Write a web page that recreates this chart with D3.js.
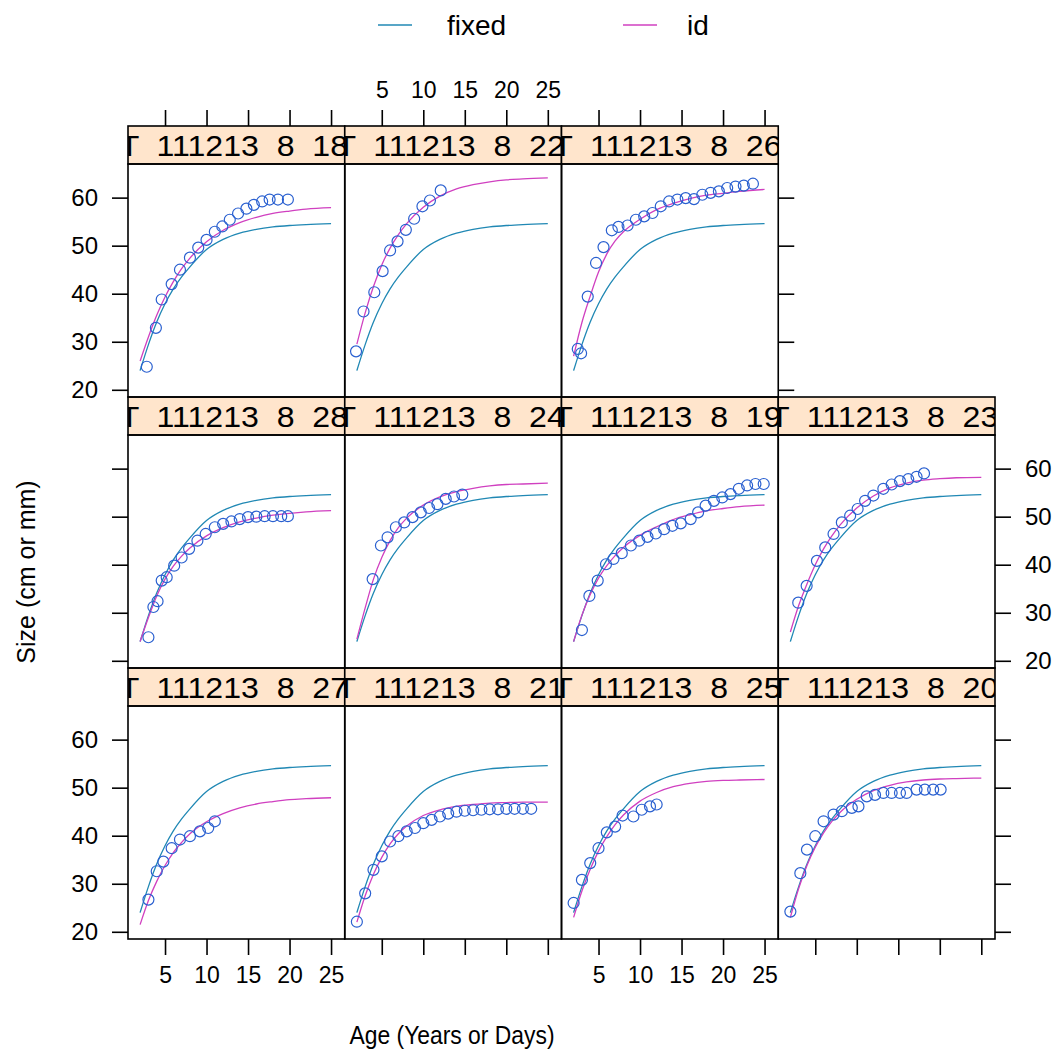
<!DOCTYPE html>
<html>
<head>
<meta charset="utf-8">
<script src="https://cdn.jsdelivr.net/npm/d3@7"></script>
<style>
  body { margin: 0; background: #fff; }
  text { font-family: "Liberation Sans", Arial, sans-serif; fill: #000; }
</style>
</head>
<body>
<svg id="chart" width="1056" height="1057"></svg>
<script>
// panels in lattice order (bottom-left first, row by row upwards)
const panelLabels = ["27", "21", "25", "20", "28", "24", "19", "23", "18", "22", "26"];

// ages at which the fitted curves are drawn
const curveAges = [2, 3, 4, 5, 6, 7, 8, 10, 12, 14, 16, 18, 20, 22, 25];

// population (fixed effects) curve, same in every panel
const fixedFit = [24, 29.4, 34.1, 37.9, 41.0, 43.5, 45.6, 49.2, 51.3, 52.6, 53.4, 53.9, 54.2, 54.4, 54.6];

// individual (id) curves, one per panel, same order as panelLabels
const idFits = [
    [21.5, 26.5, 30.5, 33.8, 36.5, 38.6, 40.4, 42.9, 44.6, 45.8, 46.6, 47.1, 47.5, 47.7, 47.9],
    [22, 27.5, 32, 35.5, 38.3, 40.4, 42, 44.2, 45.4, 46.1, 46.5, 46.8, 46.9, 47, 47],
    [23, 28.5, 33, 36.8, 39.8, 42.3, 44.3, 47.2, 49, 50.2, 50.9, 51.3, 51.5, 51.6, 51.7],
    [23, 29, 33.8, 37.6, 40.6, 43, 44.9, 47.6, 49.4, 50.5, 51.2, 51.6, 51.8, 51.9, 52],
    [24, 29, 33.5, 37, 39.7, 41.8, 43.5, 46, 47.7, 48.9, 49.7, 50.3, 50.7, 51, 51.25],
    [24.5, 31, 37, 41.5, 45, 47.7, 49.7, 52.4, 54.1, 55.2, 55.9, 56.4, 56.7, 56.8, 57],
    [24, 29.5, 33.8, 37.2, 39.8, 41.9, 43.6, 46.1, 47.9, 49.4, 50.4, 51.2, 51.7, 52.1, 52.4],
    [26, 31.5, 36, 40, 43.3, 46, 48.3, 51.8, 54.3, 56, 57, 57.6, 57.9, 58.1, 58.2],
    [26, 31, 35.5, 39.3, 42.5, 45.2, 47.4, 50.8, 53.2, 54.8, 55.9, 56.7, 57.2, 57.6, 57.9],
    [29.5, 36, 41.5, 46, 49.5, 52.3, 54.6, 58, 60.3, 61.8, 62.7, 63.3, 63.7, 63.9, 64.1],
    [27, 34, 39.5, 44.5, 48.3, 51, 52.9, 55.5, 57.5, 58.8, 59.8, 60.5, 60.9, 61.3, 61.7]
];

// observed ages and sizes, one list per panel
const obsAges = [
    [3.0, 4.0, 4.8, 5.8, 6.8, 8.0, 9.2, 10.2, 11.0],
    [2, 3, 4, 5, 6, 7, 8, 9, 10, 11, 12, 13, 14, 15, 16, 17, 18, 19, 20, 21, 22, 23],
    [2, 3, 4, 5, 6, 7, 7.9, 9.2, 10.2, 11.2, 12],
    [2, 3.2, 4, 5, 6, 7.2, 8.2, 9.4, 10.2, 11.2, 12.2, 13.2, 14.2, 15.2, 16, 17.2, 18.2, 19.2, 20.1],
    [3, 3.6, 4.1, 4.6, 5.2, 6.1, 7, 7.9, 8.9, 9.9, 11, 12, 13, 14, 15, 16, 17, 18, 19, 19.8],
    [3.9, 4.9, 5.7, 6.7, 7.7, 8.7, 9.7, 10.7, 11.7, 12.7, 13.7, 14.7],
    [3, 3.9, 4.9, 5.9, 6.8, 7.8, 8.9, 9.9, 10.9, 11.9, 12.9, 13.9, 14.9, 16.1, 17, 17.9, 18.9, 19.9, 20.9, 21.9, 22.9, 23.9, 24.9],
    [2.95, 3.96, 5.2, 6.2, 7.2, 8.2, 9.2, 10.1, 11, 12, 13.2, 14.2, 15.2, 16.2, 17.2, 18.1],
    [2.8, 3.9, 4.6, 5.8, 6.8, 8, 9, 10, 11, 11.9, 12.8, 13.8, 14.8, 15.7, 16.7, 17.6, 18.6, 19.8],
    [1.9, 2.8, 4.1, 5.1, 6, 6.9, 7.9, 8.9, 9.9, 10.8, 12.1],
    [2.5, 2.9, 3.7, 4.7, 5.6, 6.6, 7.4, 8.5, 9.5, 10.5, 11.5, 12.5, 13.5, 14.5, 15.5, 16.5, 17.5, 18.5, 19.5, 20.5, 21.5, 22.5, 23.6]
];
const obsSizes = [
    [26.7, 32.6, 34.6, 37.4, 39.2, 39.9, 40.9, 41.6, 43],
    [22.1, 28, 32.9, 35.7, 38.8, 39.9, 40.9, 41.6, 42.6, 43.3, 44, 44.6, 45, 45.2, 45.3, 45.4, 45.5, 45.5, 45.6, 45.6, 45.6, 45.6],
    [26, 30.8, 34.3, 37.4, 40.7, 41.9, 44.2, 44, 45.4, 46.1, 46.5],
    [24.2, 32.2, 37.1, 39.9, 43, 44.4, 45.1, 45.8, 46.1, 48.2, 48.5, 48.9, 48.9, 48.9, 48.9, 49.6, 49.6, 49.6, 49.6],
    [24.9, 31.2, 32.4, 36.7, 37.4, 39.8, 41.5, 43.3, 45, 46.4, 47.8, 48.5, 49, 49.5, 49.9, 50, 50.1, 50.1, 50.1, 50.1],
    [37, 44, 45.7, 47.8, 48.8, 49.9, 50.9, 51.8, 52.6, 53.7, 54.2, 54.6],
    [26.4, 33.5, 36.7, 40.1, 41.2, 42.4, 44, 45, 45.8, 46.5, 47.4, 48.1, 48.6, 49.5, 50.9, 52.3, 53.3, 54, 54.7, 55.8, 56.5, 56.8, 56.8],
    [32.1, 35.6, 40.8, 43.6, 46.4, 48.8, 50.2, 51.6, 53.3, 54.4, 55.8, 56.7, 57.4, 57.8, 58.3, 59],
    [24.8, 32.9, 38.8, 42, 45, 47.5, 49.6, 51.2, 52.9, 54, 55.4, 56.7, 57.7, 58.5, 59.2, 59.6, 59.6, 59.6],
    [28, 36.3, 40.3, 44.7, 49, 50.9, 53.3, 55.6, 58.2, 59.4, 61.5],
    [28.5, 27.6, 39.4, 46.4, 49.7, 53.2, 53.9, 54.2, 55.4, 56.1, 56.8, 58.2, 59.2, 59.6, 59.9, 59.7, 60.6, 61, 61.3, 62, 62.3, 62.5, 62.9]
];

const xTicks = [5, 10, 15, 20, 25];
const yTicks = [20, 30, 40, 50, 60];
const seriesNames = ["fixed", "id"];

const colFixed = "#2088b4",
      colId = "#d040c0",
      colPoint = "#2a60d0";

const svg = d3.select('#chart');

const nCols = 4, nRows = 3,
      leftX = 128, topY = 126,
      panelW = 216.75, stripH = 38, plotH = 233,
      rowH = stripH + plotH;

const x = d3.scaleLinear().domain([0.54, 26.65]).range([0, panelW]);
const y = d3.scaleLinear().domain([18.5, 67]).range([plotH, 0]);

// lattice layout: index 0 at bottom-left, filling rows upward
const layoutOf = i => {
    const col = i % nCols;
    const row = nRows - 1 - Math.floor(i / nCols);
    return {col, row, px: leftX + col * panelW, py: topY + row * rowH};
};

const line = d3.line()
        .x(d => x(d[0]))
        .y(d => y(d[1]))
        .curve(d3.curveMonotoneX);

const defs = svg.append('defs');

panelLabels.forEach((label, i) => {
    const {px, py} = layoutOf(i);
    const g = svg.append('g').attr('transform', `translate(${px},${py})`);

    // strip: long level name, clipped at the strip edges
    defs.append('clipPath').attr('id', 'strip' + i)
        .append('rect').attr('width', panelW).attr('height', stripH);
    g.append('rect')
        .attr('width', panelW).attr('height', stripH)
        .attr('fill', '#ffe5cc');
    g.append('g').attr('clip-path', `url(#strip${i})`)
        .append('text')
        .attr('transform', `translate(-8.3,${stripH - 8}) scale(1.07,1)`)
        .style('font-size', '30px')
        .style('white-space', 'pre')
        .attr('fill', '#111')
        .text('T  111213  8  ' + label);
    g.append('rect')
        .attr('width', panelW).attr('height', stripH)
        .attr('fill', 'none').attr('stroke', '#000').attr('stroke-width', 1.6);

    // panel
    const p = g.append('g').attr('transform', `translate(0,${stripH})`);
    defs.append('clipPath').attr('id', 'panel' + i)
        .append('rect').attr('width', panelW).attr('height', plotH);
    const inner = p.append('g').attr('clip-path', `url(#panel${i})`);

    inner.append('path')
        .datum(curveAges.map((a, k) => [a, fixedFit[k]]))
        .attr('d', line)
        .attr('fill', 'none')
        .attr('stroke', colFixed)
        .attr('stroke-width', 1.3);

    inner.append('path')
        .datum(curveAges.map((a, k) => [a, idFits[i][k]]))
        .attr('d', line)
        .attr('fill', 'none')
        .attr('stroke', colId)
        .attr('stroke-width', 1.3);

    inner.selectAll('circle')
        .data(obsAges[i].map((a, k) => [a, obsSizes[i][k]]))
        .enter().append('circle')
        .attr('cx', d => x(d[0]))
        .attr('cy', d => y(d[1]))
        .attr('r', 5.5)
        .attr('fill', 'none')
        .attr('stroke', colPoint)
        .attr('stroke-width', 1.2);

    p.append('rect')
        .attr('width', panelW).attr('height', plotH)
        .attr('fill', 'none').attr('stroke', '#000').attr('stroke-width', 1.6);
});

// axes (alternating labels, lattice style)
const styleAxis = (sel, fontSize) => {
    sel.select('.domain').remove();
    sel.selectAll('.tick line').attr('stroke', '#000').attr('stroke-width', 1.6);
    sel.selectAll('.tick text')
        .style('font-size', fontSize)
        .attr('fill', '#222');
};

const tickLen = 16;

for (let r = 0; r < nRows; r++) {
    const py = topY + r * rowH + stripH;
    // left side
    svg.append('g')
        .attr('transform', `translate(${leftX},${py})`)
        .call(d3.axisLeft(y).tickValues(yTicks).tickSize(tickLen).tickPadding(14)
            .tickFormat(r === 1 ? '' : d3.format('d')))
        .call(styleAxis, '24px');
    // right side: top row ends after third column
    const rightX = leftX + (r === 0 ? 3 : 4) * panelW;
    svg.append('g')
        .attr('transform', `translate(${rightX},${py})`)
        .call(d3.axisRight(y).tickValues(yTicks).tickSize(tickLen).tickPadding(14)
            .tickFormat(r === 1 ? d3.format('d') : ''))
        .call(styleAxis, '24px');
}

for (let c = 0; c < nCols; c++) {
    const px = leftX + c * panelW;
    if (c < 3) {
        svg.append('g')
            .attr('transform', `translate(${px},${topY})`)
            .call(d3.axisTop(x).tickValues(xTicks).tickSize(tickLen).tickPadding(12)
                .tickFormat(c === 1 ? d3.format('d') : ''))
            .call(styleAxis, '23px');
    }
    svg.append('g')
        .attr('transform', `translate(${px},${topY + nRows * rowH})`)
        .call(d3.axisBottom(x).tickValues(xTicks).tickSize(tickLen).tickPadding(12)
            .tickFormat(c % 2 === 0 ? d3.format('d') : ''))
        .call(styleAxis, '23px');
}

// axis titles
svg.append('text')
    .attr('transform', 'translate(452,1044) scale(0.88,1)')
    .attr('text-anchor', 'middle')
    .style('font-size', '26px')
    .attr('fill', '#222')
    .text('Age (Years or Days)');

svg.append('text')
    .attr('transform', 'translate(35,572) rotate(-90)')
    .attr('text-anchor', 'middle')
    .style('font-size', '25px')
    .attr('fill', '#222')
    .text('Size (cm or mm)');

// legend
const legend = svg.append('g').attr('transform', 'translate(378,25)');
const legendItems = legend.selectAll('g')
        .data(seriesNames)
        .enter().append('g')
        .attr('transform', (d, i) => `translate(${i * 245},0)`);
legendItems.append('line')
        .attr('x1', 0).attr('x2', 34)
        .attr('stroke', (d, i) => i === 0 ? colFixed : colId)
        .attr('stroke-width', 1.6);
legendItems.append('text')
        .attr('x', (d, i) => i === 0 ? 69 : 64)
        .attr('dy', '0.35em')
        .style('font-size', '28px')
        .attr('fill', '#222')
        .text(d => d);
</script>
</body>
</html>
